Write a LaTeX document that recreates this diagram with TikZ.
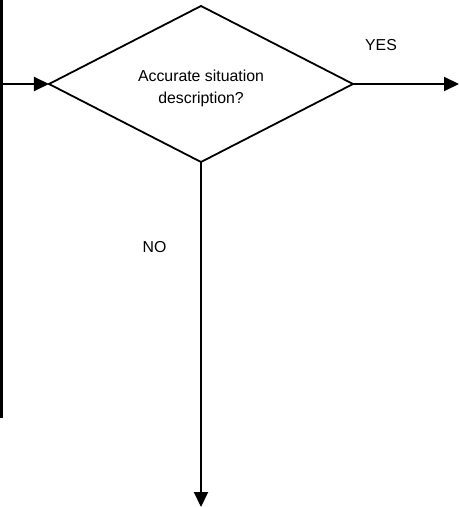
\documentclass[tikz,border=0pt]{standalone}
\usepackage{fontspec}
\setmainfont{Liberation Sans}
\usetikzlibrary{shapes.geometric,arrows.meta}

\begin{document}
\begin{tikzpicture}[x=1bp, y=-1bp, every node/.style={font=\fontsize{15.9}{22}\selectfont}]
	
	\tikzstyle{line1} = [line width=2bp, draw=black]
	\tikzstyle{arrow1} = [-{Triangle[length=15bp,width=14bp]}, line width=2bp, draw=black]
	\tikzstyle{decision}=[diamond, draw=black, line width=1.8bp, minimum width=304bp, minimum height=156bp, inner sep=0pt, outer sep=0pt, aspect=1.9]
	\tikzstyle{node1}=[text=black, align=center];
	
	\useasboundingbox (0,0) rectangle (459,507);
	
	\node [decision] (dec) at (201,84) {};
	\node [node1] (qtext) at (201,88) {Accurate situation\\description?};
	
	% incoming line on the left
	\coordinate (ltop) at (1.5,0);
	\coordinate (lbot) at (1.5,418);
	\coordinate (ljoin) at (1.5,84);
	\draw [line1] (ltop) -- (lbot);
	\draw [arrow1] (ljoin) -- (dec.west);
	
	% yes branch
	\coordinate (yesend) at (459,84);
	\draw [arrow1] (dec.east) -- (yesend);
	\node [node1] (yes) at (381,45) {YES};
	
	% no branch
	\coordinate (noend) at (201,507);
	\draw [arrow1] (dec.south) -- (noend);
	\node [node1] (no) at (154.5,247.5) {NO};
	
\end{tikzpicture}
\end{document}
